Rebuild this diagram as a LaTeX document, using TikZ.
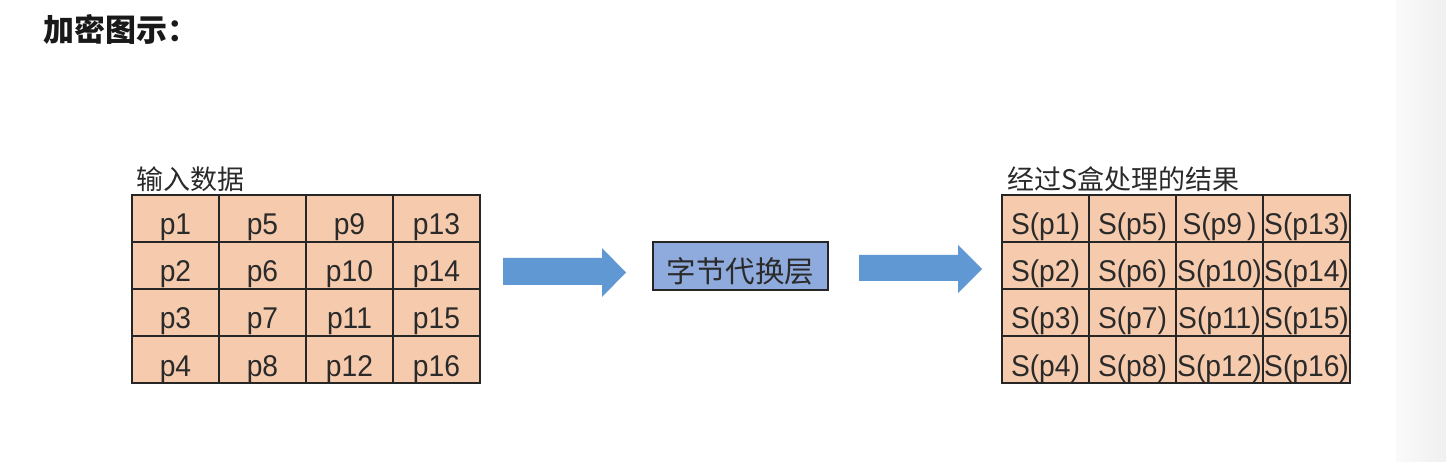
\documentclass[tikz,border=0pt]{standalone}
\usepackage{fontspec}
\setmainfont{Liberation Sans}
\newfontfamily\cellfont[FakeStretch=0.94]{Liberation Sans}
\newfontfamily\cjk{Noto Sans CJK SC}
\definecolor{cellfill}{HTML}{F6CBAD}
\definecolor{linec}{HTML}{262626}
\definecolor{arrowc}{HTML}{5F98D2}
\definecolor{boxfill}{HTML}{8FAADC}
\definecolor{textc}{HTML}{2A2A2A}
\begin{document}
\begin{tikzpicture}[x=1pt,y=-1pt,
  cell/.style={draw=linec, line width=1.4pt, fill=cellfill, minimum width=87pt, minimum height=47pt,
    inner sep=0pt, text height=33pt, text depth=0pt, text=textc,
    font=\cellfont\fontsize{30}{30}\selectfont},
  lbl/.style={inner sep=0pt, anchor=base west, text=textc, font=\cjk\fontsize{27}{27}\selectfont},
  blockarrow/.style={fill=arrowc, draw=none},
  subbox/.style={draw=linec, line width=1.2pt, fill=boxfill, minimum width=175pt, minimum height=48pt,
    inner sep=0pt, text height=33pt, text depth=0pt, text=textc, font=\cjk\fontsize{29.5}{29.5}\selectfont}]
\useasboundingbox (0,0) rectangle (1446,462);
\fill[white] (0,0) rectangle (1446,462);
\shade[left color=white!98!black, right color=white!94!black] (1396,0) rectangle (1446,462);
% title
\node[inner sep=0pt, anchor=base west, text=black!90, font=\cjk\bfseries\fontsize{31}{31}\selectfont] (title) at (43,42) {加密图示：};
% labels
\node[lbl] (inlabel) at (136,190) {输入数据};
\node[lbl] (outlabel) at (1007,190) {经过S盒处理的结果};
% left grid
\foreach \c in {1,...,4}{
  \foreach \r in {1,...,4}{
    \pgfmathtruncatemacro{\n}{(\c-1)*4+\r}
    \node[cell] (L\r\c) at ({132+87*(\c-0.5)},{195+47*(\r-0.5)}) {p\n};
  }
}
% right grid
\foreach \c in {1,...,4}{
  \foreach \r in {1,...,4}{
    \pgfmathtruncatemacro{\n}{(\c-1)*4+\r}
    \ifnum\n=9
      \node[cell] (R\r\c) at ({1002+87*(\c-0.5)},{195+47*(\r-0.5)}) {S(p9\,)};
    \else
      \node[cell] (R\r\c) at ({1002+87*(\c-0.5)},{195+47*(\r-0.5)}) {S(p\n)};
    \fi
  }
}
% middle box
\node[subbox] (sub) at (740.5,266) {字节代换层};
% block arrows
\fill[blockarrow] (503,258) -- (602,258) -- (602,248) -- (626,272.5) -- (602,297) -- (602,285) -- (503,285) -- cycle;
\fill[blockarrow] (859,255) -- (958,255) -- (958,245) -- (982,269) -- (958,293) -- (958,281) -- (859,281) -- cycle;
\end{tikzpicture}
\end{document}
